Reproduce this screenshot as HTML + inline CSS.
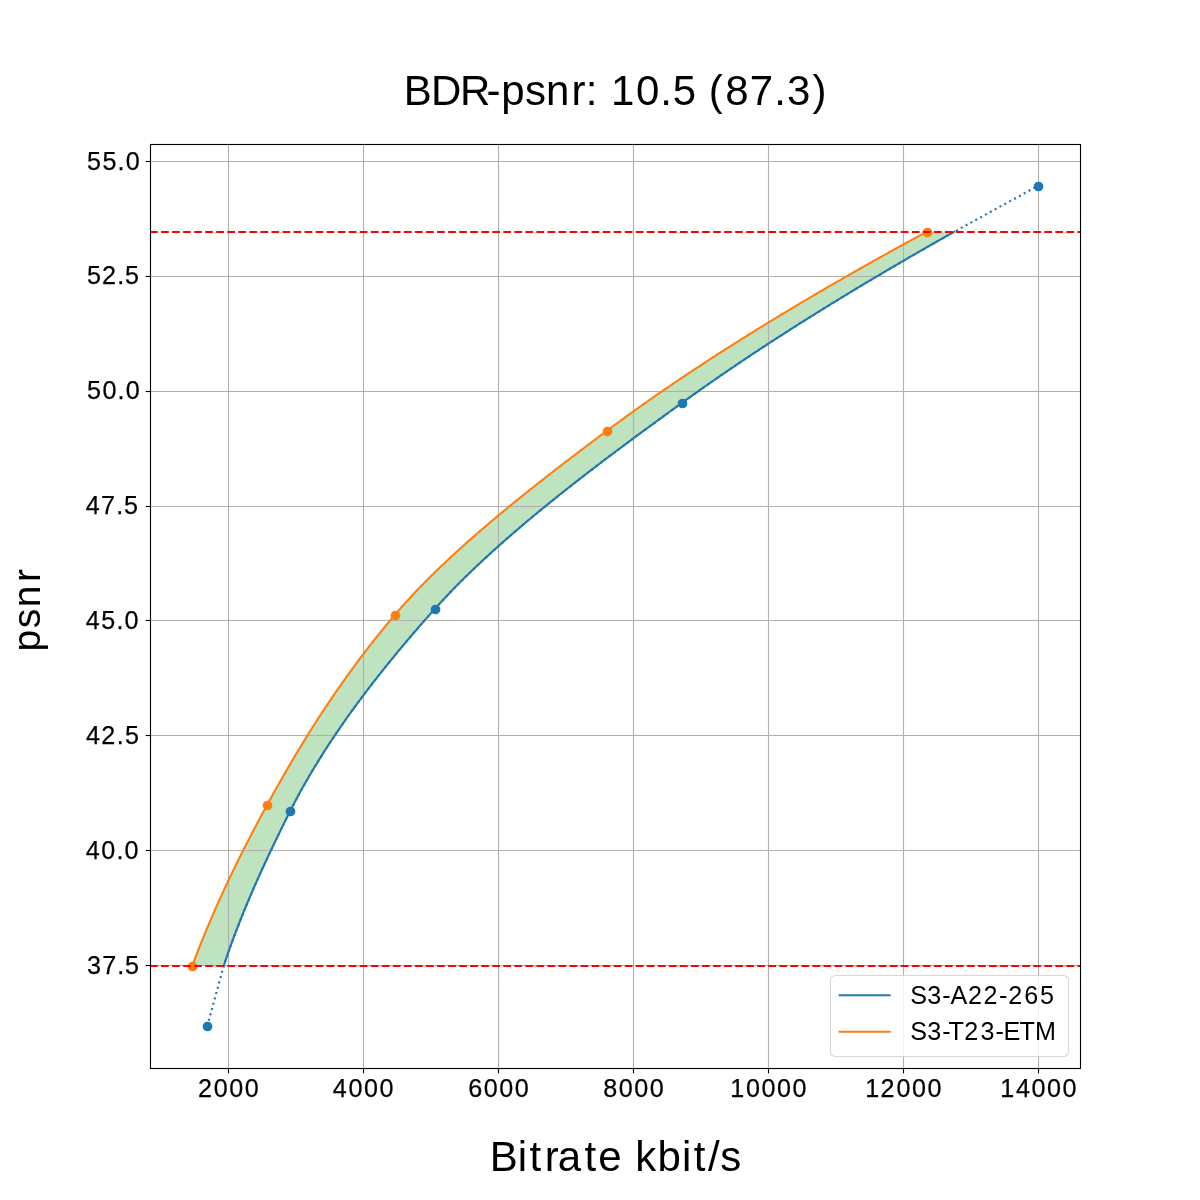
<!DOCTYPE html><html><head><meta charset="utf-8"><title>BDR-psnr</title><style>html,body{margin:0;padding:0;background:#fff;}svg{display:block;}text{font-family:"Liberation Sans",sans-serif;fill:#000;}.tx{will-change:transform;}</style></head><body>
<svg width="1200" height="1200" viewBox="0 0 1200 1200">
<rect x="0" y="0" width="1200" height="1200" fill="#fff"/>
<defs><clipPath id="ax"><rect x="150" y="144" width="930" height="924"/></clipPath></defs>
<g clip-path="url(#ax)">
<polygon points="223.76,965.81 224.37,963.97 224.98,962.13 225.60,960.29 226.22,958.45 226.85,956.61 227.48,954.77 228.12,952.93 228.77,951.09 229.42,949.25 230.07,947.41 230.73,945.57 231.40,943.73 232.07,941.89 232.75,940.06 233.43,938.22 234.11,936.38 234.80,934.54 235.50,932.70 236.20,930.86 236.90,929.02 237.61,927.18 238.33,925.34 239.05,923.50 239.77,921.66 240.50,919.82 241.24,917.98 241.97,916.14 242.72,914.30 243.46,912.46 244.21,910.62 244.97,908.78 245.73,906.94 246.49,905.10 247.26,903.26 248.03,901.42 248.81,899.58 249.59,897.74 250.37,895.90 251.16,894.06 251.95,892.22 252.75,890.38 253.55,888.54 254.36,886.70 255.16,884.86 255.97,883.02 256.79,881.18 257.61,879.34 258.43,877.50 259.26,875.66 260.09,873.82 260.92,871.98 261.76,870.14 262.60,868.30 263.44,866.46 264.29,864.62 265.14,862.78 265.99,860.94 266.85,859.10 267.71,857.26 268.57,855.42 269.43,853.58 270.30,851.74 271.17,849.90 272.05,848.06 272.93,846.22 273.81,844.38 274.69,842.54 275.57,840.70 276.46,838.86 277.35,837.02 278.25,835.18 279.14,833.34 280.04,831.50 280.94,829.66 281.85,827.82 282.75,825.98 283.66,824.14 284.57,822.30 285.49,820.47 286.40,818.63 287.32,816.79 288.24,814.95 289.16,813.11 290.09,811.27 291.01,809.43 291.95,807.59 292.90,805.75 293.85,803.91 294.81,802.07 295.78,800.23 296.76,798.39 297.74,796.55 298.73,794.71 299.73,792.87 300.74,791.03 301.76,789.19 302.78,787.35 303.82,785.51 304.86,783.67 305.90,781.83 306.96,779.99 308.02,778.15 309.10,776.31 310.17,774.47 311.26,772.63 312.35,770.79 313.46,768.95 314.57,767.11 315.68,765.27 316.81,763.43 317.94,761.59 319.08,759.75 320.22,757.91 321.38,756.07 322.54,754.23 323.71,752.39 324.88,750.55 326.06,748.71 327.25,746.87 328.45,745.03 329.66,743.19 330.87,741.35 332.09,739.51 333.31,737.67 334.54,735.83 335.78,733.99 337.03,732.15 338.28,730.31 339.54,728.47 340.81,726.63 342.09,724.79 343.37,722.95 344.65,721.11 345.95,719.27 347.25,717.43 348.56,715.59 349.87,713.75 351.19,711.91 352.52,710.07 353.86,708.23 355.20,706.39 356.55,704.55 357.90,702.72 359.26,700.88 360.63,699.04 362.00,697.20 363.38,695.36 364.77,693.52 366.16,691.68 367.56,689.84 368.96,688.00 370.37,686.16 371.79,684.32 373.21,682.48 374.64,680.64 376.08,678.80 377.52,676.96 378.97,675.12 380.42,673.28 381.88,671.44 383.35,669.60 384.82,667.76 386.30,665.92 387.78,664.08 389.27,662.24 390.77,660.40 392.27,658.56 393.77,656.72 395.28,654.88 396.80,653.04 398.33,651.20 399.86,649.36 401.39,647.52 402.93,645.68 404.48,643.84 406.03,642.00 407.59,640.16 409.15,638.32 410.72,636.48 412.29,634.64 413.87,632.80 415.45,630.96 417.04,629.12 418.64,627.28 420.23,625.44 421.84,623.60 423.45,621.76 425.07,619.92 426.69,618.08 428.31,616.24 429.94,614.40 431.58,612.56 433.22,610.72 434.86,608.88 436.52,607.04 438.19,605.20 439.87,603.36 441.56,601.52 443.27,599.68 445.00,597.84 446.73,596.00 448.48,594.16 450.24,592.32 452.02,590.48 453.81,588.64 455.61,586.80 457.42,584.96 459.25,583.13 461.08,581.29 462.94,579.45 464.80,577.61 466.67,575.77 468.56,573.93 470.46,572.09 472.37,570.25 474.29,568.41 476.23,566.57 478.17,564.73 480.13,562.89 482.10,561.05 484.08,559.21 486.07,557.37 488.07,555.53 490.08,553.69 492.10,551.85 494.14,550.01 496.18,548.17 498.24,546.33 500.30,544.49 502.38,542.65 504.46,540.81 506.56,538.97 508.66,537.13 510.78,535.29 512.90,533.45 515.04,531.61 517.18,529.77 519.34,527.93 521.50,526.09 523.67,524.25 525.85,522.41 528.04,520.57 530.24,518.73 532.45,516.89 534.66,515.05 536.89,513.21 539.12,511.37 541.36,509.53 543.61,507.69 545.87,505.85 548.14,504.01 550.41,502.17 552.69,500.33 554.98,498.49 557.28,496.65 559.58,494.81 561.90,492.97 564.22,491.13 566.54,489.29 568.87,487.45 571.22,485.61 573.56,483.77 575.92,481.93 578.28,480.09 580.64,478.25 583.02,476.41 585.40,474.57 587.78,472.73 590.18,470.89 592.57,469.05 594.98,467.21 597.39,465.37 599.81,463.54 602.23,461.70 604.65,459.86 607.09,458.02 609.52,456.18 611.97,454.34 614.41,452.50 616.87,450.66 619.32,448.82 621.79,446.98 624.25,445.14 626.73,443.30 629.20,441.46 631.68,439.62 634.17,437.78 636.66,435.94 639.15,434.10 641.65,432.26 644.15,430.42 646.65,428.58 649.16,426.74 651.67,424.90 654.19,423.06 656.70,421.22 659.22,419.38 661.75,417.54 664.28,415.70 666.81,413.86 669.34,412.02 671.88,410.18 674.41,408.34 676.95,406.50 679.50,404.66 682.04,402.82 684.59,400.98 687.15,399.14 689.72,397.30 692.30,395.46 694.89,393.62 697.48,391.78 700.09,389.94 702.70,388.10 705.32,386.26 707.95,384.42 710.59,382.58 713.24,380.74 715.89,378.90 718.56,377.06 721.23,375.22 723.91,373.38 726.60,371.54 729.30,369.70 732.01,367.86 734.73,366.02 737.45,364.18 740.19,362.34 742.93,360.50 745.68,358.66 748.44,356.82 751.20,354.98 753.98,353.14 756.76,351.30 759.55,349.46 762.35,347.62 765.16,345.79 767.98,343.95 770.80,342.11 773.64,340.27 776.48,338.43 779.33,336.59 782.18,334.75 785.05,332.91 787.92,331.07 790.80,329.23 793.69,327.39 796.59,325.55 799.50,323.71 802.41,321.87 805.33,320.03 808.26,318.19 811.20,316.35 814.14,314.51 817.09,312.67 820.05,310.83 823.02,308.99 826.00,307.15 828.98,305.31 831.97,303.47 834.97,301.63 837.97,299.79 840.99,297.95 844.01,296.11 847.04,294.27 850.08,292.43 853.12,290.59 856.17,288.75 859.23,286.91 862.30,285.07 865.37,283.23 868.45,281.39 871.54,279.55 874.64,277.71 877.74,275.87 880.85,274.03 883.97,272.19 887.09,270.35 890.22,268.51 893.36,266.67 896.51,264.83 899.66,262.99 902.83,261.15 905.99,259.31 909.17,257.47 912.35,255.63 915.54,253.79 918.74,251.95 921.94,250.11 925.15,248.27 928.37,246.43 931.59,244.59 934.82,242.75 938.06,240.91 941.30,239.07 944.55,237.23 947.81,235.39 951.08,233.55 954.35,231.71 926.69,231.71 923.31,233.55 919.93,235.39 916.55,237.23 913.18,239.07 909.83,240.91 906.47,242.75 903.13,244.59 899.79,246.43 896.46,248.27 893.14,250.11 889.82,251.95 886.51,253.79 883.21,255.63 879.91,257.47 876.63,259.31 873.35,261.15 870.07,262.99 866.81,264.83 863.55,266.67 860.30,268.51 857.06,270.35 853.83,272.19 850.60,274.03 847.38,275.87 844.17,277.71 840.97,279.55 837.77,281.39 834.58,283.23 831.40,285.07 828.23,286.91 825.06,288.75 821.91,290.59 818.76,292.43 815.62,294.27 812.48,296.11 809.36,297.95 806.24,299.79 803.13,301.63 800.03,303.47 796.94,305.31 793.85,307.15 790.78,308.99 787.71,310.83 784.65,312.67 781.60,314.51 778.56,316.35 775.52,318.19 772.49,320.03 769.48,321.87 766.47,323.71 763.47,325.55 760.47,327.39 757.49,329.23 754.51,331.07 751.55,332.91 748.59,334.75 745.64,336.59 742.70,338.43 739.76,340.27 736.84,342.11 733.92,343.95 731.02,345.79 728.12,347.62 725.23,349.46 722.35,351.30 719.48,353.14 716.62,354.98 713.77,356.82 710.92,358.66 708.09,360.50 705.26,362.34 702.45,364.18 699.64,366.02 696.84,367.86 694.05,369.70 691.27,371.54 688.50,373.38 685.74,375.22 682.98,377.06 680.24,378.90 677.51,380.74 674.78,382.58 672.07,384.42 669.36,386.26 666.67,388.10 663.98,389.94 661.30,391.78 658.64,393.62 655.98,395.46 653.33,397.30 650.69,399.14 648.06,400.98 645.44,402.82 642.83,404.66 640.23,406.50 637.64,408.34 635.06,410.18 632.49,412.02 629.93,413.86 627.38,415.70 624.84,417.54 622.31,419.38 619.79,421.22 617.28,423.06 614.78,424.90 612.29,426.74 609.81,428.58 607.34,430.42 604.88,432.26 602.42,434.10 599.96,435.94 597.51,437.78 595.06,439.62 592.61,441.46 590.17,443.30 587.73,445.14 585.29,446.98 582.86,448.82 580.43,450.66 578.00,452.50 575.58,454.34 573.17,456.18 570.76,458.02 568.35,459.86 565.95,461.70 563.55,463.54 561.16,465.37 558.77,467.21 556.39,469.05 554.01,470.89 551.64,472.73 549.27,474.57 546.91,476.41 544.55,478.25 542.21,480.09 539.86,481.93 537.53,483.77 535.20,485.61 532.87,487.45 530.55,489.29 528.24,491.13 525.94,492.97 523.64,494.81 521.35,496.65 519.07,498.49 516.80,500.33 514.53,502.17 512.27,504.01 510.01,505.85 507.77,507.69 505.53,509.53 503.30,511.37 501.08,513.21 498.87,515.05 496.67,516.89 494.47,518.73 492.29,520.57 490.11,522.41 487.94,524.25 485.78,526.09 483.63,527.93 481.49,529.77 479.36,531.61 477.24,533.45 475.12,535.29 473.02,537.13 470.93,538.97 468.85,540.81 466.77,542.65 464.71,544.49 462.66,546.33 460.62,548.17 458.59,550.01 456.57,551.85 454.56,553.69 452.57,555.53 450.58,557.37 448.61,559.21 446.64,561.05 444.69,562.89 442.75,564.73 440.82,566.57 438.91,568.41 437.00,570.25 435.11,572.09 433.23,573.93 431.37,575.77 429.51,577.61 427.67,579.45 425.84,581.29 424.03,583.13 422.23,584.96 420.44,586.80 418.66,588.64 416.90,590.48 415.15,592.32 413.42,594.16 411.69,596.00 409.99,597.84 408.30,599.68 406.62,601.52 404.95,603.36 403.30,605.20 401.67,607.04 400.05,608.88 398.44,610.72 396.85,612.56 395.28,614.40 393.71,616.24 392.16,618.08 390.61,619.92 389.08,621.76 387.55,623.60 386.03,625.44 384.51,627.28 383.01,629.12 381.51,630.96 380.02,632.80 378.53,634.64 377.06,636.48 375.59,638.32 374.13,640.16 372.68,642.00 371.23,643.84 369.80,645.68 368.37,647.52 366.94,649.36 365.53,651.20 364.12,653.04 362.72,654.88 361.32,656.72 359.93,658.56 358.55,660.40 357.18,662.24 355.81,664.08 354.45,665.92 353.10,667.76 351.75,669.60 350.41,671.44 349.08,673.28 347.75,675.12 346.43,676.96 345.11,678.80 343.80,680.64 342.50,682.48 341.21,684.32 339.92,686.16 338.63,688.00 337.36,689.84 336.08,691.68 334.82,693.52 333.56,695.36 332.30,697.20 331.06,699.04 329.81,700.88 328.58,702.72 327.35,704.55 326.12,706.39 324.90,708.23 323.68,710.07 322.48,711.91 321.27,713.75 320.07,715.59 318.88,717.43 317.69,719.27 316.51,721.11 315.33,722.95 314.16,724.79 312.99,726.63 311.83,728.47 310.67,730.31 309.51,732.15 308.36,733.99 307.22,735.83 306.08,737.67 304.95,739.51 303.81,741.35 302.69,743.19 301.57,745.03 300.45,746.87 299.34,748.71 298.23,750.55 297.12,752.39 296.02,754.23 294.93,756.07 293.83,757.91 292.75,759.75 291.66,761.59 290.58,763.43 289.50,765.27 288.43,767.11 287.36,768.95 286.30,770.79 285.23,772.63 284.18,774.47 283.12,776.31 282.07,778.15 281.02,779.99 279.98,781.83 278.93,783.67 277.90,785.51 276.86,787.35 275.83,789.19 274.80,791.03 273.77,792.87 272.75,794.71 271.73,796.55 270.71,798.39 269.70,800.23 268.69,802.07 267.68,803.91 266.67,805.75 265.67,807.59 264.66,809.43 263.67,811.27 262.67,813.11 261.68,814.95 260.69,816.79 259.70,818.63 258.72,820.47 257.74,822.30 256.76,824.14 255.79,825.98 254.82,827.82 253.85,829.66 252.89,831.50 251.93,833.34 250.97,835.18 250.01,837.02 249.06,838.86 248.11,840.70 247.17,842.54 246.23,844.38 245.29,846.22 244.35,848.06 243.42,849.90 242.49,851.74 241.57,853.58 240.65,855.42 239.73,857.26 238.81,859.10 237.90,860.94 236.99,862.78 236.09,864.62 235.19,866.46 234.29,868.30 233.40,870.14 232.51,871.98 231.62,873.82 230.74,875.66 229.86,877.50 228.98,879.34 228.11,881.18 227.24,883.02 226.38,884.86 225.52,886.70 224.66,888.54 223.81,890.38 222.96,892.22 222.11,894.06 221.27,895.90 220.43,897.74 219.59,899.58 218.76,901.42 217.94,903.26 217.11,905.10 216.30,906.94 215.48,908.78 214.67,910.62 213.86,912.46 213.06,914.30 212.26,916.14 211.46,917.98 210.67,919.82 209.89,921.66 209.10,923.50 208.33,925.34 207.55,927.18 206.78,929.02 206.01,930.86 205.25,932.70 204.49,934.54 203.74,936.38 202.99,938.22 202.25,940.06 201.51,941.89 200.77,943.73 200.04,945.57 199.31,947.41 198.59,949.25 197.87,951.09 197.15,952.93 196.44,954.77 195.74,956.61 195.03,958.45 194.34,960.29 193.64,962.13 192.96,963.97 192.27,965.81" fill="#2ca02c" fill-opacity="0.3" stroke="#2ca02c" stroke-opacity="0.3" stroke-width="0.000" stroke-linejoin="miter"/>
</g>
<line x1="228.50" y1="144" x2="228.50" y2="1068" stroke="#b0b0b0" stroke-width="1.111"/>
<line x1="363.50" y1="144" x2="363.50" y2="1068" stroke="#b0b0b0" stroke-width="1.111"/>
<line x1="498.50" y1="144" x2="498.50" y2="1068" stroke="#b0b0b0" stroke-width="1.111"/>
<line x1="633.50" y1="144" x2="633.50" y2="1068" stroke="#b0b0b0" stroke-width="1.111"/>
<line x1="768.50" y1="144" x2="768.50" y2="1068" stroke="#b0b0b0" stroke-width="1.111"/>
<line x1="903.50" y1="144" x2="903.50" y2="1068" stroke="#b0b0b0" stroke-width="1.111"/>
<line x1="1038.50" y1="144" x2="1038.50" y2="1068" stroke="#b0b0b0" stroke-width="1.111"/>
<line x1="150" y1="965.50" x2="1080" y2="965.50" stroke="#b0b0b0" stroke-width="1.111"/>
<line x1="150" y1="850.50" x2="1080" y2="850.50" stroke="#b0b0b0" stroke-width="1.111"/>
<line x1="150" y1="735.50" x2="1080" y2="735.50" stroke="#b0b0b0" stroke-width="1.111"/>
<line x1="150" y1="620.50" x2="1080" y2="620.50" stroke="#b0b0b0" stroke-width="1.111"/>
<line x1="150" y1="506.50" x2="1080" y2="506.50" stroke="#b0b0b0" stroke-width="1.111"/>
<line x1="150" y1="391.50" x2="1080" y2="391.50" stroke="#b0b0b0" stroke-width="1.111"/>
<line x1="150" y1="276.50" x2="1080" y2="276.50" stroke="#b0b0b0" stroke-width="1.111"/>
<line x1="150" y1="161.50" x2="1080" y2="161.50" stroke="#b0b0b0" stroke-width="1.111"/>
<g clip-path="url(#ax)">
<polyline points="207.26,1026.00 223.76,965.81 224.37,963.97 224.98,962.13 225.60,960.29 226.22,958.45 226.85,956.61 227.48,954.77 228.12,952.93 228.77,951.09 229.42,949.25 230.07,947.41 230.73,945.57 231.40,943.73 232.07,941.89 232.75,940.06 233.43,938.22 234.11,936.38 234.80,934.54 235.50,932.70 236.20,930.86 236.90,929.02 237.61,927.18 238.33,925.34 239.05,923.50 239.77,921.66 240.50,919.82 241.24,917.98 241.97,916.14 242.72,914.30 243.46,912.46 244.21,910.62 244.97,908.78 245.73,906.94 246.49,905.10 247.26,903.26 248.03,901.42 248.81,899.58 249.59,897.74 250.37,895.90 251.16,894.06 251.95,892.22 252.75,890.38 253.55,888.54 254.36,886.70 255.16,884.86 255.97,883.02 256.79,881.18 257.61,879.34 258.43,877.50 259.26,875.66 260.09,873.82 260.92,871.98 261.76,870.14 262.60,868.30 263.44,866.46 264.29,864.62 265.14,862.78 265.99,860.94 266.85,859.10 267.71,857.26 268.57,855.42 269.43,853.58 270.30,851.74 271.17,849.90 272.05,848.06 272.93,846.22 273.81,844.38 274.69,842.54 275.57,840.70 276.46,838.86 277.35,837.02 278.25,835.18 279.14,833.34 280.04,831.50 280.94,829.66 281.85,827.82 282.75,825.98 283.66,824.14 284.57,822.30 285.49,820.47 286.40,818.63 287.32,816.79 288.24,814.95 289.16,813.11 290.09,811.27 291.01,809.43 291.95,807.59 292.90,805.75 293.85,803.91 294.81,802.07 295.78,800.23 296.76,798.39 297.74,796.55 298.73,794.71 299.73,792.87 300.74,791.03 301.76,789.19 302.78,787.35 303.82,785.51 304.86,783.67 305.90,781.83 306.96,779.99 308.02,778.15 309.10,776.31 310.17,774.47 311.26,772.63 312.35,770.79 313.46,768.95 314.57,767.11 315.68,765.27 316.81,763.43 317.94,761.59 319.08,759.75 320.22,757.91 321.38,756.07 322.54,754.23 323.71,752.39 324.88,750.55 326.06,748.71 327.25,746.87 328.45,745.03 329.66,743.19 330.87,741.35 332.09,739.51 333.31,737.67 334.54,735.83 335.78,733.99 337.03,732.15 338.28,730.31 339.54,728.47 340.81,726.63 342.09,724.79 343.37,722.95 344.65,721.11 345.95,719.27 347.25,717.43 348.56,715.59 349.87,713.75 351.19,711.91 352.52,710.07 353.86,708.23 355.20,706.39 356.55,704.55 357.90,702.72 359.26,700.88 360.63,699.04 362.00,697.20 363.38,695.36 364.77,693.52 366.16,691.68 367.56,689.84 368.96,688.00 370.37,686.16 371.79,684.32 373.21,682.48 374.64,680.64 376.08,678.80 377.52,676.96 378.97,675.12 380.42,673.28 381.88,671.44 383.35,669.60 384.82,667.76 386.30,665.92 387.78,664.08 389.27,662.24 390.77,660.40 392.27,658.56 393.77,656.72 395.28,654.88 396.80,653.04 398.33,651.20 399.86,649.36 401.39,647.52 402.93,645.68 404.48,643.84 406.03,642.00 407.59,640.16 409.15,638.32 410.72,636.48 412.29,634.64 413.87,632.80 415.45,630.96 417.04,629.12 418.64,627.28 420.23,625.44 421.84,623.60 423.45,621.76 425.07,619.92 426.69,618.08 428.31,616.24 429.94,614.40 431.58,612.56 433.22,610.72 434.86,608.88 436.52,607.04 438.19,605.20 439.87,603.36 441.56,601.52 443.27,599.68 445.00,597.84 446.73,596.00 448.48,594.16 450.24,592.32 452.02,590.48 453.81,588.64 455.61,586.80 457.42,584.96 459.25,583.13 461.08,581.29 462.94,579.45 464.80,577.61 466.67,575.77 468.56,573.93 470.46,572.09 472.37,570.25 474.29,568.41 476.23,566.57 478.17,564.73 480.13,562.89 482.10,561.05 484.08,559.21 486.07,557.37 488.07,555.53 490.08,553.69 492.10,551.85 494.14,550.01 496.18,548.17 498.24,546.33 500.30,544.49 502.38,542.65 504.46,540.81 506.56,538.97 508.66,537.13 510.78,535.29 512.90,533.45 515.04,531.61 517.18,529.77 519.34,527.93 521.50,526.09 523.67,524.25 525.85,522.41 528.04,520.57 530.24,518.73 532.45,516.89 534.66,515.05 536.89,513.21 539.12,511.37 541.36,509.53 543.61,507.69 545.87,505.85 548.14,504.01 550.41,502.17 552.69,500.33 554.98,498.49 557.28,496.65 559.58,494.81 561.90,492.97 564.22,491.13 566.54,489.29 568.87,487.45 571.22,485.61 573.56,483.77 575.92,481.93 578.28,480.09 580.64,478.25 583.02,476.41 585.40,474.57 587.78,472.73 590.18,470.89 592.57,469.05 594.98,467.21 597.39,465.37 599.81,463.54 602.23,461.70 604.65,459.86 607.09,458.02 609.52,456.18 611.97,454.34 614.41,452.50 616.87,450.66 619.32,448.82 621.79,446.98 624.25,445.14 626.73,443.30 629.20,441.46 631.68,439.62 634.17,437.78 636.66,435.94 639.15,434.10 641.65,432.26 644.15,430.42 646.65,428.58 649.16,426.74 651.67,424.90 654.19,423.06 656.70,421.22 659.22,419.38 661.75,417.54 664.28,415.70 666.81,413.86 669.34,412.02 671.88,410.18 674.41,408.34 676.95,406.50 679.50,404.66 682.04,402.82 684.59,400.98 687.15,399.14 689.72,397.30 692.30,395.46 694.89,393.62 697.48,391.78 700.09,389.94 702.70,388.10 705.32,386.26 707.95,384.42 710.59,382.58 713.24,380.74 715.89,378.90 718.56,377.06 721.23,375.22 723.91,373.38 726.60,371.54 729.30,369.70 732.01,367.86 734.73,366.02 737.45,364.18 740.19,362.34 742.93,360.50 745.68,358.66 748.44,356.82 751.20,354.98 753.98,353.14 756.76,351.30 759.55,349.46 762.35,347.62 765.16,345.79 767.98,343.95 770.80,342.11 773.64,340.27 776.48,338.43 779.33,336.59 782.18,334.75 785.05,332.91 787.92,331.07 790.80,329.23 793.69,327.39 796.59,325.55 799.50,323.71 802.41,321.87 805.33,320.03 808.26,318.19 811.20,316.35 814.14,314.51 817.09,312.67 820.05,310.83 823.02,308.99 826.00,307.15 828.98,305.31 831.97,303.47 834.97,301.63 837.97,299.79 840.99,297.95 844.01,296.11 847.04,294.27 850.08,292.43 853.12,290.59 856.17,288.75 859.23,286.91 862.30,285.07 865.37,283.23 868.45,281.39 871.54,279.55 874.64,277.71 877.74,275.87 880.85,274.03 883.97,272.19 887.09,270.35 890.22,268.51 893.36,266.67 896.51,264.83 899.66,262.99 902.83,261.15 905.99,259.31 909.17,257.47 912.35,255.63 915.54,253.79 918.74,251.95 921.94,250.11 925.15,248.27 928.37,246.43 931.59,244.59 934.82,242.75 938.06,240.91 941.30,239.07 944.55,237.23 947.81,235.39 951.08,233.55 954.35,231.71 1037.73,186.00" fill="none" stroke="#1f77b4" stroke-width="2.083" stroke-dasharray="2.083 3.438"/>
<polyline points="223.76,965.81 224.37,963.97 224.98,962.13 225.60,960.29 226.22,958.45 226.85,956.61 227.48,954.77 228.12,952.93 228.77,951.09 229.42,949.25 230.07,947.41 230.73,945.57 231.40,943.73 232.07,941.89 232.75,940.06 233.43,938.22 234.11,936.38 234.80,934.54 235.50,932.70 236.20,930.86 236.90,929.02 237.61,927.18 238.33,925.34 239.05,923.50 239.77,921.66 240.50,919.82 241.24,917.98 241.97,916.14 242.72,914.30 243.46,912.46 244.21,910.62 244.97,908.78 245.73,906.94 246.49,905.10 247.26,903.26 248.03,901.42 248.81,899.58 249.59,897.74 250.37,895.90 251.16,894.06 251.95,892.22 252.75,890.38 253.55,888.54 254.36,886.70 255.16,884.86 255.97,883.02 256.79,881.18 257.61,879.34 258.43,877.50 259.26,875.66 260.09,873.82 260.92,871.98 261.76,870.14 262.60,868.30 263.44,866.46 264.29,864.62 265.14,862.78 265.99,860.94 266.85,859.10 267.71,857.26 268.57,855.42 269.43,853.58 270.30,851.74 271.17,849.90 272.05,848.06 272.93,846.22 273.81,844.38 274.69,842.54 275.57,840.70 276.46,838.86 277.35,837.02 278.25,835.18 279.14,833.34 280.04,831.50 280.94,829.66 281.85,827.82 282.75,825.98 283.66,824.14 284.57,822.30 285.49,820.47 286.40,818.63 287.32,816.79 288.24,814.95 289.16,813.11 290.09,811.27 291.01,809.43 291.95,807.59 292.90,805.75 293.85,803.91 294.81,802.07 295.78,800.23 296.76,798.39 297.74,796.55 298.73,794.71 299.73,792.87 300.74,791.03 301.76,789.19 302.78,787.35 303.82,785.51 304.86,783.67 305.90,781.83 306.96,779.99 308.02,778.15 309.10,776.31 310.17,774.47 311.26,772.63 312.35,770.79 313.46,768.95 314.57,767.11 315.68,765.27 316.81,763.43 317.94,761.59 319.08,759.75 320.22,757.91 321.38,756.07 322.54,754.23 323.71,752.39 324.88,750.55 326.06,748.71 327.25,746.87 328.45,745.03 329.66,743.19 330.87,741.35 332.09,739.51 333.31,737.67 334.54,735.83 335.78,733.99 337.03,732.15 338.28,730.31 339.54,728.47 340.81,726.63 342.09,724.79 343.37,722.95 344.65,721.11 345.95,719.27 347.25,717.43 348.56,715.59 349.87,713.75 351.19,711.91 352.52,710.07 353.86,708.23 355.20,706.39 356.55,704.55 357.90,702.72 359.26,700.88 360.63,699.04 362.00,697.20 363.38,695.36 364.77,693.52 366.16,691.68 367.56,689.84 368.96,688.00 370.37,686.16 371.79,684.32 373.21,682.48 374.64,680.64 376.08,678.80 377.52,676.96 378.97,675.12 380.42,673.28 381.88,671.44 383.35,669.60 384.82,667.76 386.30,665.92 387.78,664.08 389.27,662.24 390.77,660.40 392.27,658.56 393.77,656.72 395.28,654.88 396.80,653.04 398.33,651.20 399.86,649.36 401.39,647.52 402.93,645.68 404.48,643.84 406.03,642.00 407.59,640.16 409.15,638.32 410.72,636.48 412.29,634.64 413.87,632.80 415.45,630.96 417.04,629.12 418.64,627.28 420.23,625.44 421.84,623.60 423.45,621.76 425.07,619.92 426.69,618.08 428.31,616.24 429.94,614.40 431.58,612.56 433.22,610.72 434.86,608.88 436.52,607.04 438.19,605.20 439.87,603.36 441.56,601.52 443.27,599.68 445.00,597.84 446.73,596.00 448.48,594.16 450.24,592.32 452.02,590.48 453.81,588.64 455.61,586.80 457.42,584.96 459.25,583.13 461.08,581.29 462.94,579.45 464.80,577.61 466.67,575.77 468.56,573.93 470.46,572.09 472.37,570.25 474.29,568.41 476.23,566.57 478.17,564.73 480.13,562.89 482.10,561.05 484.08,559.21 486.07,557.37 488.07,555.53 490.08,553.69 492.10,551.85 494.14,550.01 496.18,548.17 498.24,546.33 500.30,544.49 502.38,542.65 504.46,540.81 506.56,538.97 508.66,537.13 510.78,535.29 512.90,533.45 515.04,531.61 517.18,529.77 519.34,527.93 521.50,526.09 523.67,524.25 525.85,522.41 528.04,520.57 530.24,518.73 532.45,516.89 534.66,515.05 536.89,513.21 539.12,511.37 541.36,509.53 543.61,507.69 545.87,505.85 548.14,504.01 550.41,502.17 552.69,500.33 554.98,498.49 557.28,496.65 559.58,494.81 561.90,492.97 564.22,491.13 566.54,489.29 568.87,487.45 571.22,485.61 573.56,483.77 575.92,481.93 578.28,480.09 580.64,478.25 583.02,476.41 585.40,474.57 587.78,472.73 590.18,470.89 592.57,469.05 594.98,467.21 597.39,465.37 599.81,463.54 602.23,461.70 604.65,459.86 607.09,458.02 609.52,456.18 611.97,454.34 614.41,452.50 616.87,450.66 619.32,448.82 621.79,446.98 624.25,445.14 626.73,443.30 629.20,441.46 631.68,439.62 634.17,437.78 636.66,435.94 639.15,434.10 641.65,432.26 644.15,430.42 646.65,428.58 649.16,426.74 651.67,424.90 654.19,423.06 656.70,421.22 659.22,419.38 661.75,417.54 664.28,415.70 666.81,413.86 669.34,412.02 671.88,410.18 674.41,408.34 676.95,406.50 679.50,404.66 682.04,402.82 684.59,400.98 687.15,399.14 689.72,397.30 692.30,395.46 694.89,393.62 697.48,391.78 700.09,389.94 702.70,388.10 705.32,386.26 707.95,384.42 710.59,382.58 713.24,380.74 715.89,378.90 718.56,377.06 721.23,375.22 723.91,373.38 726.60,371.54 729.30,369.70 732.01,367.86 734.73,366.02 737.45,364.18 740.19,362.34 742.93,360.50 745.68,358.66 748.44,356.82 751.20,354.98 753.98,353.14 756.76,351.30 759.55,349.46 762.35,347.62 765.16,345.79 767.98,343.95 770.80,342.11 773.64,340.27 776.48,338.43 779.33,336.59 782.18,334.75 785.05,332.91 787.92,331.07 790.80,329.23 793.69,327.39 796.59,325.55 799.50,323.71 802.41,321.87 805.33,320.03 808.26,318.19 811.20,316.35 814.14,314.51 817.09,312.67 820.05,310.83 823.02,308.99 826.00,307.15 828.98,305.31 831.97,303.47 834.97,301.63 837.97,299.79 840.99,297.95 844.01,296.11 847.04,294.27 850.08,292.43 853.12,290.59 856.17,288.75 859.23,286.91 862.30,285.07 865.37,283.23 868.45,281.39 871.54,279.55 874.64,277.71 877.74,275.87 880.85,274.03 883.97,272.19 887.09,270.35 890.22,268.51 893.36,266.67 896.51,264.83 899.66,262.99 902.83,261.15 905.99,259.31 909.17,257.47 912.35,255.63 915.54,253.79 918.74,251.95 921.94,250.11 925.15,248.27 928.37,246.43 931.59,244.59 934.82,242.75 938.06,240.91 941.30,239.07 944.55,237.23 947.81,235.39 951.08,233.55 954.35,231.71" fill="none" stroke="#1f77b4" stroke-width="2.083" stroke-linecap="square" stroke-linejoin="round"/>
<polyline points="192.27,965.81 192.96,963.97 193.64,962.13 194.34,960.29 195.03,958.45 195.74,956.61 196.44,954.77 197.15,952.93 197.87,951.09 198.59,949.25 199.31,947.41 200.04,945.57 200.77,943.73 201.51,941.89 202.25,940.06 202.99,938.22 203.74,936.38 204.49,934.54 205.25,932.70 206.01,930.86 206.78,929.02 207.55,927.18 208.33,925.34 209.10,923.50 209.89,921.66 210.67,919.82 211.46,917.98 212.26,916.14 213.06,914.30 213.86,912.46 214.67,910.62 215.48,908.78 216.30,906.94 217.11,905.10 217.94,903.26 218.76,901.42 219.59,899.58 220.43,897.74 221.27,895.90 222.11,894.06 222.96,892.22 223.81,890.38 224.66,888.54 225.52,886.70 226.38,884.86 227.24,883.02 228.11,881.18 228.98,879.34 229.86,877.50 230.74,875.66 231.62,873.82 232.51,871.98 233.40,870.14 234.29,868.30 235.19,866.46 236.09,864.62 236.99,862.78 237.90,860.94 238.81,859.10 239.73,857.26 240.65,855.42 241.57,853.58 242.49,851.74 243.42,849.90 244.35,848.06 245.29,846.22 246.23,844.38 247.17,842.54 248.11,840.70 249.06,838.86 250.01,837.02 250.97,835.18 251.93,833.34 252.89,831.50 253.85,829.66 254.82,827.82 255.79,825.98 256.76,824.14 257.74,822.30 258.72,820.47 259.70,818.63 260.69,816.79 261.68,814.95 262.67,813.11 263.67,811.27 264.66,809.43 265.67,807.59 266.67,805.75 267.68,803.91 268.69,802.07 269.70,800.23 270.71,798.39 271.73,796.55 272.75,794.71 273.77,792.87 274.80,791.03 275.83,789.19 276.86,787.35 277.90,785.51 278.93,783.67 279.98,781.83 281.02,779.99 282.07,778.15 283.12,776.31 284.18,774.47 285.23,772.63 286.30,770.79 287.36,768.95 288.43,767.11 289.50,765.27 290.58,763.43 291.66,761.59 292.75,759.75 293.83,757.91 294.93,756.07 296.02,754.23 297.12,752.39 298.23,750.55 299.34,748.71 300.45,746.87 301.57,745.03 302.69,743.19 303.81,741.35 304.95,739.51 306.08,737.67 307.22,735.83 308.36,733.99 309.51,732.15 310.67,730.31 311.83,728.47 312.99,726.63 314.16,724.79 315.33,722.95 316.51,721.11 317.69,719.27 318.88,717.43 320.07,715.59 321.27,713.75 322.48,711.91 323.68,710.07 324.90,708.23 326.12,706.39 327.35,704.55 328.58,702.72 329.81,700.88 331.06,699.04 332.30,697.20 333.56,695.36 334.82,693.52 336.08,691.68 337.36,689.84 338.63,688.00 339.92,686.16 341.21,684.32 342.50,682.48 343.80,680.64 345.11,678.80 346.43,676.96 347.75,675.12 349.08,673.28 350.41,671.44 351.75,669.60 353.10,667.76 354.45,665.92 355.81,664.08 357.18,662.24 358.55,660.40 359.93,658.56 361.32,656.72 362.72,654.88 364.12,653.04 365.53,651.20 366.94,649.36 368.37,647.52 369.80,645.68 371.23,643.84 372.68,642.00 374.13,640.16 375.59,638.32 377.06,636.48 378.53,634.64 380.02,632.80 381.51,630.96 383.01,629.12 384.51,627.28 386.03,625.44 387.55,623.60 389.08,621.76 390.61,619.92 392.16,618.08 393.71,616.24 395.28,614.40 396.85,612.56 398.44,610.72 400.05,608.88 401.67,607.04 403.30,605.20 404.95,603.36 406.62,601.52 408.30,599.68 409.99,597.84 411.69,596.00 413.42,594.16 415.15,592.32 416.90,590.48 418.66,588.64 420.44,586.80 422.23,584.96 424.03,583.13 425.84,581.29 427.67,579.45 429.51,577.61 431.37,575.77 433.23,573.93 435.11,572.09 437.00,570.25 438.91,568.41 440.82,566.57 442.75,564.73 444.69,562.89 446.64,561.05 448.61,559.21 450.58,557.37 452.57,555.53 454.56,553.69 456.57,551.85 458.59,550.01 460.62,548.17 462.66,546.33 464.71,544.49 466.77,542.65 468.85,540.81 470.93,538.97 473.02,537.13 475.12,535.29 477.24,533.45 479.36,531.61 481.49,529.77 483.63,527.93 485.78,526.09 487.94,524.25 490.11,522.41 492.29,520.57 494.47,518.73 496.67,516.89 498.87,515.05 501.08,513.21 503.30,511.37 505.53,509.53 507.77,507.69 510.01,505.85 512.27,504.01 514.53,502.17 516.80,500.33 519.07,498.49 521.35,496.65 523.64,494.81 525.94,492.97 528.24,491.13 530.55,489.29 532.87,487.45 535.20,485.61 537.53,483.77 539.86,481.93 542.21,480.09 544.55,478.25 546.91,476.41 549.27,474.57 551.64,472.73 554.01,470.89 556.39,469.05 558.77,467.21 561.16,465.37 563.55,463.54 565.95,461.70 568.35,459.86 570.76,458.02 573.17,456.18 575.58,454.34 578.00,452.50 580.43,450.66 582.86,448.82 585.29,446.98 587.73,445.14 590.17,443.30 592.61,441.46 595.06,439.62 597.51,437.78 599.96,435.94 602.42,434.10 604.88,432.26 607.34,430.42 609.81,428.58 612.29,426.74 614.78,424.90 617.28,423.06 619.79,421.22 622.31,419.38 624.84,417.54 627.38,415.70 629.93,413.86 632.49,412.02 635.06,410.18 637.64,408.34 640.23,406.50 642.83,404.66 645.44,402.82 648.06,400.98 650.69,399.14 653.33,397.30 655.98,395.46 658.64,393.62 661.30,391.78 663.98,389.94 666.67,388.10 669.36,386.26 672.07,384.42 674.78,382.58 677.51,380.74 680.24,378.90 682.98,377.06 685.74,375.22 688.50,373.38 691.27,371.54 694.05,369.70 696.84,367.86 699.64,366.02 702.45,364.18 705.26,362.34 708.09,360.50 710.92,358.66 713.77,356.82 716.62,354.98 719.48,353.14 722.35,351.30 725.23,349.46 728.12,347.62 731.02,345.79 733.92,343.95 736.84,342.11 739.76,340.27 742.70,338.43 745.64,336.59 748.59,334.75 751.55,332.91 754.51,331.07 757.49,329.23 760.47,327.39 763.47,325.55 766.47,323.71 769.48,321.87 772.49,320.03 775.52,318.19 778.56,316.35 781.60,314.51 784.65,312.67 787.71,310.83 790.78,308.99 793.85,307.15 796.94,305.31 800.03,303.47 803.13,301.63 806.24,299.79 809.36,297.95 812.48,296.11 815.62,294.27 818.76,292.43 821.91,290.59 825.06,288.75 828.23,286.91 831.40,285.07 834.58,283.23 837.77,281.39 840.97,279.55 844.17,277.71 847.38,275.87 850.60,274.03 853.83,272.19 857.06,270.35 860.30,268.51 863.55,266.67 866.81,264.83 870.07,262.99 873.35,261.15 876.63,259.31 879.91,257.47 883.21,255.63 886.51,253.79 889.82,251.95 893.14,250.11 896.46,248.27 899.79,246.43 903.13,244.59 906.47,242.75 909.83,240.91 913.18,239.07 916.55,237.23 919.93,235.39 923.31,233.55 926.69,231.71" fill="none" stroke="#ff7f0e" stroke-width="2.083" stroke-linecap="square" stroke-linejoin="round"/>
<circle cx="207.50" cy="1026.50" r="4.861" fill="#1f77b4"/>
<circle cx="290.50" cy="811.50" r="4.861" fill="#1f77b4"/>
<circle cx="435.50" cy="609.50" r="4.861" fill="#1f77b4"/>
<circle cx="682.50" cy="403.50" r="4.861" fill="#1f77b4"/>
<circle cx="1038.50" cy="186.50" r="4.861" fill="#1f77b4"/>
<circle cx="192.50" cy="966.50" r="4.861" fill="#ff7f0e"/>
<circle cx="267.50" cy="805.50" r="4.861" fill="#ff7f0e"/>
<circle cx="395.50" cy="615.50" r="4.861" fill="#ff7f0e"/>
<circle cx="607.50" cy="431.50" r="4.861" fill="#ff7f0e"/>
<circle cx="927.50" cy="232.50" r="4.861" fill="#ff7f0e"/>
<line x1="150" y1="966.00" x2="1080" y2="966.00" stroke="#ff0000" stroke-width="2.083" stroke-dasharray="7.708 3.333"/>
<line x1="150" y1="232.00" x2="1080" y2="232.00" stroke="#ff0000" stroke-width="2.083" stroke-dasharray="7.708 3.333"/>
</g>
<rect x="150.5" y="144.5" width="930" height="924" fill="none" stroke="#000" stroke-width="1.111"/>
<line x1="228.50" y1="1068.5" x2="228.50" y2="1073.36" stroke="#000" stroke-width="1.111"/>
<line x1="363.50" y1="1068.5" x2="363.50" y2="1073.36" stroke="#000" stroke-width="1.111"/>
<line x1="498.50" y1="1068.5" x2="498.50" y2="1073.36" stroke="#000" stroke-width="1.111"/>
<line x1="633.50" y1="1068.5" x2="633.50" y2="1073.36" stroke="#000" stroke-width="1.111"/>
<line x1="768.50" y1="1068.5" x2="768.50" y2="1073.36" stroke="#000" stroke-width="1.111"/>
<line x1="903.50" y1="1068.5" x2="903.50" y2="1073.36" stroke="#000" stroke-width="1.111"/>
<line x1="1038.50" y1="1068.5" x2="1038.50" y2="1073.36" stroke="#000" stroke-width="1.111"/>
<line x1="145.64" y1="965.50" x2="150.5" y2="965.50" stroke="#000" stroke-width="1.111"/>
<line x1="145.64" y1="850.50" x2="150.5" y2="850.50" stroke="#000" stroke-width="1.111"/>
<line x1="145.64" y1="735.50" x2="150.5" y2="735.50" stroke="#000" stroke-width="1.111"/>
<line x1="145.64" y1="620.50" x2="150.5" y2="620.50" stroke="#000" stroke-width="1.111"/>
<line x1="145.64" y1="506.50" x2="150.5" y2="506.50" stroke="#000" stroke-width="1.111"/>
<line x1="145.64" y1="391.50" x2="150.5" y2="391.50" stroke="#000" stroke-width="1.111"/>
<line x1="145.64" y1="276.50" x2="150.5" y2="276.50" stroke="#000" stroke-width="1.111"/>
<line x1="145.64" y1="161.50" x2="150.5" y2="161.50" stroke="#000" stroke-width="1.111"/>
<rect x="830.50" y="975.50" width="238.00" height="81.00" rx="5" ry="5" fill="#fff" fill-opacity="0.8" stroke="#cccccc" stroke-opacity="0.8" stroke-width="1.111"/>
<line x1="839.62" y1="995.25" x2="889.62" y2="995.25" stroke="#1f77b4" stroke-width="2.083" stroke-linecap="square"/>
<line x1="839.62" y1="1031.75" x2="889.62" y2="1031.75" stroke="#ff7f0e" stroke-width="2.083" stroke-linecap="square"/>
<g class="tx">
<text x="197.89 213.68 229.16 244.63" y="1097.00" font-size="25.14" stroke="#000" stroke-width="0.25">2000</text>
<text x="332.84 348.43 364.01 379.59" y="1097.00" font-size="25.14" stroke="#000" stroke-width="0.25">4000</text>
<text x="468.29 483.74 499.19 514.64" y="1097.00" font-size="25.14" stroke="#000" stroke-width="0.25">6000</text>
<text x="603.33 618.77 634.21 649.65" y="1097.00" font-size="25.14" stroke="#000" stroke-width="0.25">8000</text>
<text x="730.22 745.91 761.47 777.03 792.60" y="1097.00" font-size="25.14" stroke="#000" stroke-width="0.25">10000</text>
<text x="865.22 880.59 896.47 912.03 927.60" y="1097.00" font-size="25.14" stroke="#000" stroke-width="0.25">12000</text>
<text x="1000.22 1015.91 1031.47 1047.03 1062.60" y="1097.00" font-size="25.14" stroke="#000" stroke-width="0.25">14000</text>
<text x="87.09 102.28 117.26 125.12" y="974.00" font-size="25.14" stroke="#000" stroke-width="0.25">37.5</text>
<text x="85.82 101.34 116.47 124.61" y="859.00" font-size="25.14" stroke="#000" stroke-width="0.25">40.0</text>
<text x="85.88 101.24 116.81 124.97" y="744.00" font-size="25.14" stroke="#000" stroke-width="0.25">42.5</text>
<text x="85.82 101.25 116.47 124.61" y="629.00" font-size="25.14" stroke="#000" stroke-width="0.25">45.0</text>
<text x="85.76 101.08 116.15 124.09" y="514.00" font-size="25.14" stroke="#000" stroke-width="0.25">47.5</text>
<text x="87.00 102.52 117.58 125.65" y="399.00" font-size="25.14" stroke="#000" stroke-width="0.25">50.0</text>
<text x="86.95 101.99 117.26 125.12" y="284.00" font-size="25.14" stroke="#000" stroke-width="0.25">52.5</text>
<text x="87.00 102.43 117.58 125.65" y="170.00" font-size="25.14" stroke="#000" stroke-width="0.25">55.0</text>
<text x="910.22 927.21 942.32 950.49 967.88 983.61 999.07 1008.26 1024.32 1039.95" y="1004.00" font-size="25.14">S3-A22-265</text>
<text x="910.21 927.20 942.30 948.55 964.31 980.39 995.49 1003.49 1019.62 1035.04" y="1040.00" font-size="25.14">S3-T23-ETM</text>
<text x="403.67 430.90 459.89 486.38 501.25 524.92 545.96 571.57 585.86 597.52 611.00 635.92 660.28 672.82 684.49 708.86 725.16 749.78 774.21 786.96 812.59" y="105.00" font-size="42.00">BDR-psnr: 10.5 (87.3)</text>
<text x="489.66 517.81 529.52 544.77 557.75 584.47 598.36 610.03 635.24 657.58 682.09 693.80 708.05 720.31" y="1171.00" font-size="42.00">Bitrate kbit/s</text>
<text x="41.42 64.84 85.87 111.10" y="653.00" font-size="39.00" transform="rotate(-90 40.00 653.00)">psnr</text>
</g>
</svg></body></html>
